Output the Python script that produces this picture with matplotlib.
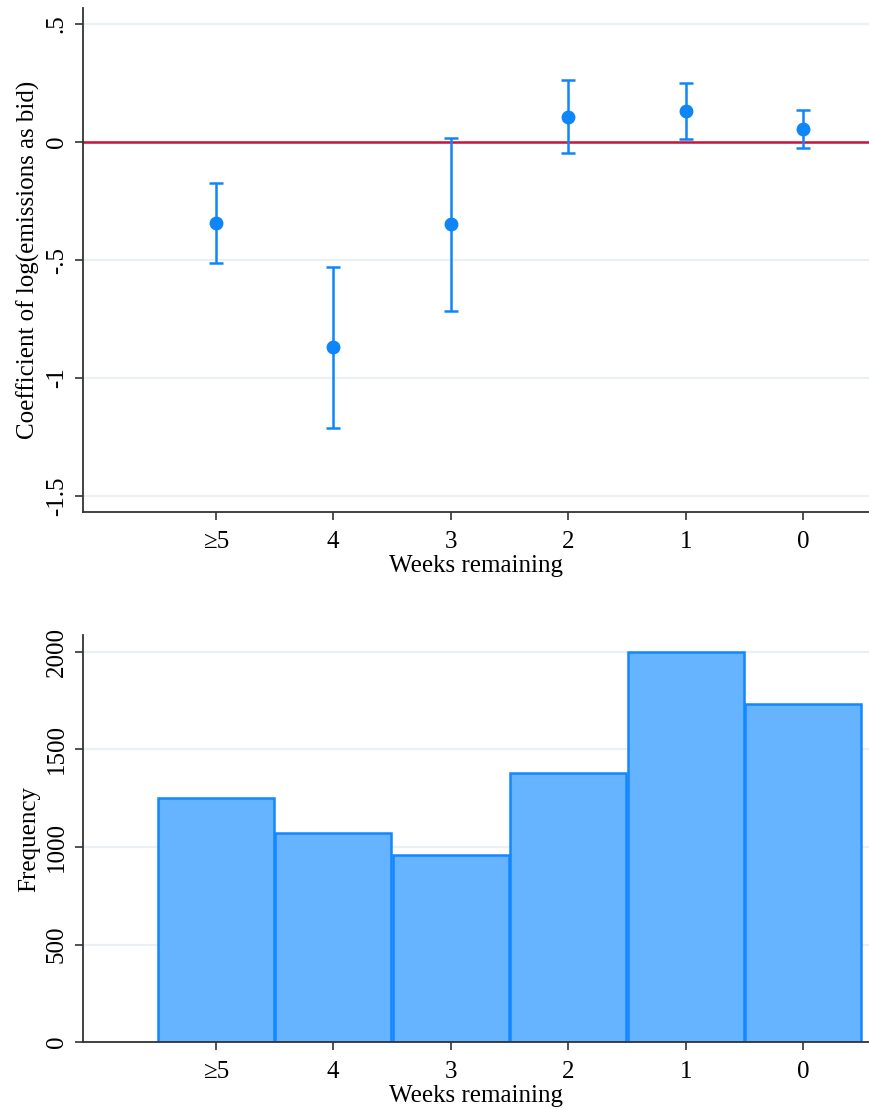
import matplotlib
matplotlib.use("Agg")
import matplotlib.pyplot as plt
import numpy as np

plt.rcParams["font.family"] = ["Liberation Serif", "DejaVu Serif"]

# data
weeks      = ["\u22655", "4", "3", "2", "1", "0"]
coef       = [-0.343, -0.869, -0.347, 0.106, 0.131, 0.055]
ci_low     = [-0.513, -1.212, -0.716, -0.047, 0.013, -0.025]
ci_high    = [-0.174, -0.530, 0.017, 0.263, 0.250, 0.136]
frequency  = [1251, 1072, 959, 1379, 2000, 1733]

coef_ticks   = [0.5, 0, -0.5, -1, -1.5]
coef_labels  = [".5", "0", "-.5", "-1", "-1.5"]
freq_ticks   = [0, 500, 1000, 1500, 2000]

BLUE  = "#0f86f7"
FILL  = "#66b3ff"
EDGE  = "#1287ff"
RED   = "#c8143c"
GRID  = "#eaf0f3"
SPINE = "#333333"
FS    = 18

fig = plt.figure(figsize=(8.69, 11.09), dpi=100)
ax1 = fig.add_axes([0.0955, 0.5383, 0.9045, 0.4545])
ax2 = fig.add_axes([0.0955, 0.0604, 0.9045, 0.3670])

x = np.arange(len(weeks))


def style(ax):
    for s in ["top", "right"]:
        ax.spines[s].set_visible(False)
    for s in ["left", "bottom"]:
        ax.spines[s].set_color(SPINE)
        ax.spines[s].set_linewidth(1.3)
    ax.tick_params(direction="out", length=6, width=1.2, color=SPINE,
                   labelsize=FS, pad=5)
    ax.tick_params(axis="x", pad=8)
    ax.yaxis.grid(True, color=GRID, linewidth=1.6)
    ax.set_axisbelow(True)
    ax.set_xticks(x)
    ax.set_xticklabels(weeks)
    ax.set_xlim(-1.13, 5.56)
    for lbl in ax.get_yticklabels():
        lbl.set_rotation(90)
        lbl.set_va("center")
    ax.set_xlabel("Weeks remaining", fontsize=FS, labelpad=1)


# top panel: coefficients with confidence intervals
coef_arr = np.array(coef)
yerr = [coef_arr - np.array(ci_low), np.array(ci_high) - coef_arr]
ax1.axhline(0, color=RED, linewidth=1.8, zorder=2)
ax1.errorbar(x, coef, yerr=yerr, fmt="o", color=BLUE, ecolor=BLUE,
             markersize=9, elinewidth=1.8, capsize=5, capthick=1.8,
             zorder=3)
ax1.set_ylim(-1.568, 0.568)
ax1.set_yticks(coef_ticks)
ax1.set_yticklabels(coef_labels)
style(ax1)
ax1.set_ylabel("Coefficient of log(emissions as bid)", fontsize=FS, labelpad=4)

# bottom panel: frequency histogram
ax2.bar(x, frequency, width=0.985, color=FILL, edgecolor=EDGE,
        linewidth=1.8, zorder=2)
ax2.set_ylim(0, 2087)
ax2.set_yticks(freq_ticks)
style(ax2)
ax2.set_ylabel("Frequency", fontsize=FS, labelpad=4)

fig.savefig("out.png", dpi=100)
